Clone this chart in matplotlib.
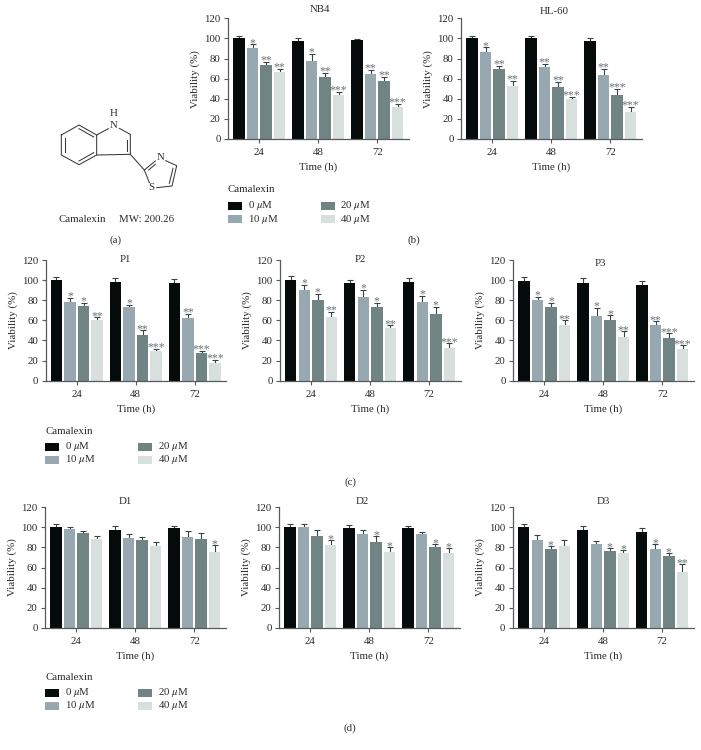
import matplotlib
matplotlib.use('Agg')
import matplotlib.pyplot as plt
from matplotlib.patches import Rectangle

plt.rcParams['font.family'] = ['Liberation Serif', 'DejaVu Serif']
plt.rcParams['mathtext.fontset'] = 'stix'

W, H = 701, 750
times = ['24', '48', '72']
doses = ['0 $\\mu$M', '10 $\\mu$M', '20 $\\mu$M', '40 $\\mu$M']
colors = ['#050a0a', '#97a8b0', '#708484', '#d8e0de']

# values per group (24, 48, 72 h), one row per time point, 4 doses each
nb4_vals = [[100, 90, 74, 67], [97, 78, 62, 44], [98, 65, 58, 32]]
nb4_tops = [[102.4, 94, 77, 69.5], [100.5, 85, 65.5, 47], [99.5, 69, 62, 34.5]]
nb4_stars = [['', '*', '**', '**'], ['', '*', '**', '***'], ['', '**', '**', '***']]

hl60_vals = [[100, 86, 70, 53], [100, 72, 52, 40], [97, 64, 44, 27]]
hl60_tops = [[102, 91, 73, 58], [102, 75, 57, 42], [100, 70, 50, 32]]
hl60_stars = [['', '*', '**', '**'], ['', '**', '**', '***'], ['', '**', '***', '***']]

p1_vals = [[100, 78, 74, 60], [98, 73, 45, 30], [97, 62, 28, 18]]
p1_tops = [[103, 82, 77, 63], [102, 75.5, 50, 32], [101, 66, 30, 21]]
p1_stars = [['', '*', '*', '**'], ['', '*', '**', '***'], ['', '**', '***', '***']]

p2_vals = [[100, 90, 80, 63], [97, 83, 73, 52], [98, 78, 66, 33]]
p2_tops = [[104, 95, 86, 68], [100, 90, 77, 55], [102, 84, 73, 37]]
p2_stars = [['', '*', '*', '**'], ['', '*', '*', '**'], ['', '*', '*', '***']]

p3_vals = [[99, 80, 73, 55], [97, 64, 60, 43], [95, 55, 42, 32]]
p3_tops = [[103, 83, 77, 60], [102, 72, 65, 49], [99, 59, 47, 35]]
p3_stars = [['', '*', '*', '**'], ['', '*', '*', '**'], ['', '**', '***', '***']]

d1_vals = [[100, 98, 94, 88], [97, 89, 87, 81], [99, 90, 88, 75]]
d1_tops = [[103, 100.5, 96, 91], [101.5, 93, 90.5, 85], [101, 96, 94.5, 82]]
d1_stars = [['', '', '', ''], ['', '', '', ''], ['', '', '', '*']]

d2_vals = [[100, 100, 91, 82], [99, 93, 85, 75], [99, 93, 80, 74]]
d2_tops = [[103, 103, 97, 87], [102, 97, 91, 80], [101, 95, 83, 79]]
d2_stars = [['', '', '', '*'], ['', '', '*', '*'], ['', '', '*', '*']]

d3_vals = [[100, 87, 78, 81], [97, 83, 76, 74], [95, 78, 71, 56]]
d3_tops = [[103, 92, 81, 87], [101.5, 86, 79, 77], [99, 83, 74, 63]]
d3_stars = [['', '', '*', ''], ['', '', '*', '*'], ['', '*', '*', '**']]

GROUP = 59.0
STEP = 13.6
BAR = 11.4
TXT = 7.8
INK = '#2a2a2a'


def panel(fig, over, title, vals, tops, stars, axis_x, y120, y0, title_x, title_y, xlabel=True):
    right = axis_x + 180.7
    ax = fig.add_axes([axis_x / W, 1 - y0 / H, (right - axis_x) / W, (y0 - y120) / H])
    ax.patch.set_alpha(0)
    for i in range(3):
        for j in range(4):
            x = i + (j - 1.5) * STEP / GROUP
            ax.bar(x, vals[i][j], width=BAR / GROUP, color=colors[j], linewidth=0, zorder=2)
            # upper whisker only, the lower half stays hidden behind the bar
            ax.vlines(x, vals[i][j], tops[i][j], color='#3a4444', lw=0.8, zorder=1)
            ax.plot(x, tops[i][j], marker='_', ms=4.6, mew=0.8, color='#3a4444', zorder=1,
                    clip_on=False)
            if stars[i][j]:
                ax.annotate(stars[i][j], (x, tops[i][j]), xytext=(0, -1.1),
                            textcoords='offset points', ha='center', va='baseline',
                            fontsize=8.5, color='#6a7373', annotation_clip=False)
    ax.set_xlim(-31 / GROUP, (right - axis_x - 31) / GROUP)
    ax.set_ylim(0, 120)
    ax.set_yticks(range(0, 121, 20))
    ax.set_xticks(range(3))
    ax.set_xticklabels(times)
    ax.tick_params(axis='both', length=3, width=0.8, color='#555b5b', labelsize=TXT,
                   labelcolor=INK, pad=2.4)
    ax.tick_params(axis='x', pad=3.6)
    for s in ['top', 'right']:
        ax.spines[s].set_visible(False)
    for s in ['left', 'bottom']:
        ax.spines[s].set_color('#555b5b')
        ax.spines[s].set_linewidth(0.9)
    over.text(axis_x - 33, (y0 + y120) / 2, 'Viability (%)', rotation=90, ha='center', va='center',
              fontsize=TXT, color=INK)
    over.text(title_x, title_y, title, ha='center', va='center', fontsize=TXT, color=INK)
    if xlabel:
        over.text(axis_x + 31 + GROUP, y0 + 28, 'Time (h)', ha='center', va='center',
                  fontsize=TXT, color=INK)


def dose_legend(over, x, y):
    over.text(x, y, 'Camalexin', ha='left', va='center', fontsize=TXT, color=INK)
    spots = [(x, y + 15.5), (x, y + 29), (x + 92.5, y + 15.5), (x + 92.5, y + 29)]
    for (sx, sy), c, lab in zip(spots, colors, doses):
        over.add_patch(Rectangle((sx, sy - 4), 14, 8, color=c, linewidth=0))
        over.text(sx + 20, sy, lab, ha='left', va='center', fontsize=TXT, color=INK)


def molecule(over):
    bonds = [
        [(184, 405), (237, 375), (290, 405), (290, 465), (237, 494), (184, 465), (184, 405)],
        [(195, 415), (195, 455)], [(237, 386), (281, 411)], [(237, 483), (281, 458)],
        [(290, 405), (325, 386)], [(358, 385), (391, 403), (391, 463), (290, 465)],
        [(380, 420), (380, 452)], [(391, 463), (433, 510)],
        [(433, 510), (466, 483)], [(446, 510), (466, 493)],
        [(497, 482), (530, 497), (516, 558), (470, 563)], [(519, 505), (508, 550)],
        [(448, 548), (433, 510)],
    ]
    for b in bonds:
        over.plot([p[0] / 3 for p in b], [p[1] / 3 for p in b], color='#3a3a3a', lw=0.75)
    for s, x, y in [('H', 340, 342), ('N', 340, 375), ('N', 481, 473), ('S', 455, 562)]:
        over.text(x / 3, y / 3, s, ha='center', va='center', fontsize=TXT, color=INK)


fig = plt.figure(figsize=(W / 100, H / 100), dpi=100, facecolor='white')
over = fig.add_axes([0, 0, 1, 1])
over.set_xlim(0, W)
over.set_ylim(H, 0)
over.axis('off')

panel(fig, over, 'NB4', nb4_vals, nb4_tops, nb4_stars, 228.3, 18.3, 139, 320, 10)
panel(fig, over, 'HL-60', hl60_vals, hl60_tops, hl60_stars, 461.3, 18.3, 139, 554, 11)
panel(fig, over, 'P1', p1_vals, p1_tops, p1_stars, 45.7, 260, 380.7, 125, 260)
panel(fig, over, 'P2', p2_vals, p2_tops, p2_stars, 280, 260, 380.7, 360, 260)
panel(fig, over, 'P3', p3_vals, p3_tops, p3_stars, 513.3, 260, 380.7, 600, 263)
panel(fig, over, 'D1', d1_vals, d1_tops, d1_stars, 45.3, 507.3, 627.7, 125, 501)
panel(fig, over, 'D2', d2_vals, d2_tops, d2_stars, 279.3, 507.3, 627.7, 362, 501)
panel(fig, over, 'D3', d3_vals, d3_tops, d3_stars, 513, 507.3, 627.7, 603, 501)

dose_legend(over, 228, 190)
dose_legend(over, 45, 431)
dose_legend(over, 45, 677)

molecule(over)
over.text(82, 219, 'Camalexin', ha='center', va='center', fontsize=TXT, color=INK)
over.text(147, 219, 'MW: 200.26', ha='center', va='center', fontsize=TXT, color=INK)
for lab, x, y in [('(a)', 115, 240), ('(b)', 414, 240), ('(c)', 350, 482), ('(d)', 350, 728)]:
    over.text(x, y, lab, ha='center', va='center', fontsize=TXT, color=INK)

fig.savefig('out.png', dpi=100)
